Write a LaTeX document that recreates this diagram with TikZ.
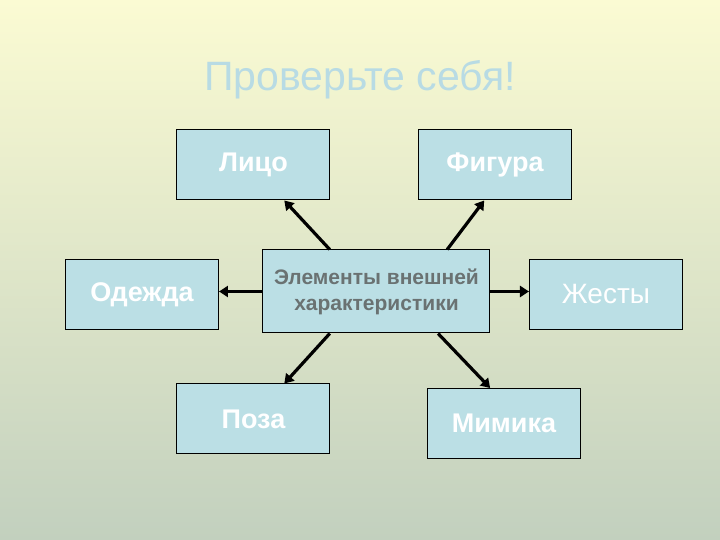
\documentclass[tikz,border=0pt]{standalone}
\usepackage{fontspec}
\setmainfont{Liberation Sans}
\usepackage{tikz}
\usetikzlibrary{arrows.meta, positioning, calc}
\definecolor{bgtop}{RGB}{251,251,211}
\definecolor{bgbot}{RGB}{194,208,190}
\definecolor{boxfill}{RGB}{187,223,229}
\definecolor{titleblue}{RGB}{184,219,228}
\definecolor{hubtext}{RGB}{106,114,114}
\tikzset{
  topic/.style={rectangle, draw=black, fill=boxfill,
    minimum width=76.5pt, minimum height=35pt, align=center,
    text=white, font=\fontsize{13.5}{16}\selectfont\bfseries, line width=0.5pt},
  lighttopic/.style={topic, font=\fontsize{14}{16}\selectfont},
  hub/.style={rectangle, draw=black, fill=boxfill,
    minimum width=113.5pt, minimum height=41.5pt, align=center,
    text=hubtext, font=\fontsize{10.5}{13}\selectfont\bfseries, line width=0.5pt},
  arrow/.style={-{Triangle[length=4.5pt,width=5.5pt]}, line width=1.6pt, color=black}
}
\begin{document}
\begin{tikzpicture}[x=0.5pt, y=-0.5pt]
  \shade[top color=bgtop, bottom color=bgbot] (0,0) rectangle (720,540);
  \useasboundingbox (0,0) rectangle (720,540);

  \node[anchor=base, text=titleblue, font=\fontsize{20.5}{24}\selectfont] (title) at (360,91) {Проверьте себя!};

  \node[hub] (hub) at (376.5,291.5) {Элементы внешней\\характеристики};

  \node[topic] (lico) at (253.5,165) {Лицо};
  \node[topic] (figura) at (495,165) {Фигура};
  \node[topic] (odezhda) at (142,294.5) {Одежда};
  \node[lighttopic] (zhesty) at (606,294.5) {Жесты};
  \node[topic] (poza) at (253.5,419) {Поза};
  \node[topic] (mimika) at (504,423.5) {Мимика};

  \draw[arrow] ($(hub.north west)!0.295!(hub.north east)$) -- ($(lico.south west)!0.70!(lico.south east)$);
  \draw[arrow] ($(hub.north west)!0.81!(hub.north east)$) -- ($(figura.south west)!0.43!(figura.south east)$);
  \draw[arrow] (hub.west) -- (hub.west -| odezhda.east);
  \draw[arrow] (hub.east) -- (hub.east -| zhesty.west);
  \draw[arrow] ($(hub.south west)!0.295!(hub.south east)$) -- ($(poza.north west)!0.70!(poza.north east)$);
  \draw[arrow] ($(hub.south west)!0.77!(hub.south east)$) -- ($(mimika.north west)!0.41!(mimika.north east)$);
\end{tikzpicture}
\end{document}
